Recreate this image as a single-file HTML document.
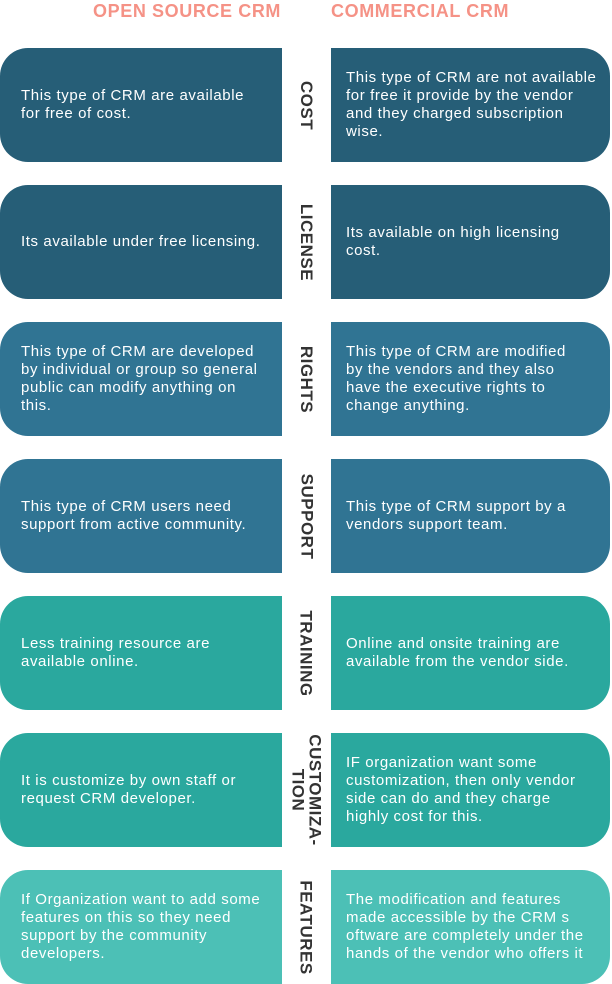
<!DOCTYPE html>
<html><head><meta charset="utf-8"><style>
body{margin:0;width:612px;height:984px;background:#fff;position:relative;font-family:"Liberation Sans",sans-serif;overflow:hidden}
.h{position:absolute;top:1px;font-size:18px;color:#f4877a;letter-spacing:0.6px;font-weight:bold;opacity:0.9}
.l,.r{position:absolute;height:114px;color:#fff;font-size:15px;letter-spacing:0.6px;line-height:18px;display:flex;align-items:center;box-sizing:border-box;white-space:nowrap;overflow:hidden}
.l{left:0;width:282px;border-radius:28px 0 0 28px;padding:0 0 0 21px}
.r{left:331px;width:279px;border-radius:0 28px 28px 0;padding:0 0 0 15px}
.m{position:absolute;left:282px;width:49px;height:114px;display:flex;align-items:center;justify-content:center}
.m span{display:block;transform:rotate(90deg);white-space:nowrap;font-weight:bold;font-size:17px;color:#333;line-height:17px;text-align:center;letter-spacing:0.5px}
</style></head><body>
<div class="h" style="left:93px">OPEN SOURCE CRM</div>
<div class="h" style="left:331px">COMMERCIAL CRM</div>

<div class="l" style="top:48px;background:#265e77"><div>This type of CRM are available<br>for free of cost.</div></div>
<div class="m" style="top:48px"><span>COST</span></div>
<div class="r" style="top:48px;background:#265e77"><div>This type of CRM are not available<br>for free it provide by the vendor<br>and they charged subscription<br>wise.</div></div>

<div class="l" style="top:185px;background:#265e77"><div>Its available under free licensing.</div></div>
<div class="m" style="top:185px"><span>LICENSE</span></div>
<div class="r" style="top:185px;background:#265e77"><div>Its available on high licensing<br>cost.</div></div>

<div class="l" style="top:322px;background:#307493"><div>This type of CRM are developed<br>by individual or group so general<br>public can modify anything on<br>this.</div></div>
<div class="m" style="top:322px"><span>RIGHTS</span></div>
<div class="r" style="top:322px;background:#307493"><div>This type of CRM are modified<br>by the vendors and they also<br>have the executive rights to<br>change anything.</div></div>

<div class="l" style="top:459px;background:#307493"><div>This type of CRM users need<br>support from active community.</div></div>
<div class="m" style="top:459px"><span>SUPPORT</span></div>
<div class="r" style="top:459px;background:#307493"><div>This type of CRM support by a<br>vendors support team.</div></div>

<div class="l" style="top:596px;background:#2aa89e"><div>Less training resource are<br>available online.</div></div>
<div class="m" style="top:596px"><span>TRAINING</span></div>
<div class="r" style="top:596px;background:#2aa89e"><div>Online and onsite training are<br>available from the vendor side.</div></div>

<div class="l" style="top:733px;background:#2aa89e"><div>It is customize by own staff or<br>request CRM developer.</div></div>
<div class="m" style="top:733px"><span>CUSTOMIZA-<br>TION</span></div>
<div class="r" style="top:733px;background:#2aa89e"><div>IF organization want some<br>customization, then only vendor<br>side can do and they charge<br>highly cost for this.</div></div>

<div class="l" style="top:870px;background:#4cc0b6"><div>If Organization want to add some<br>features on this so they need<br>support by the community<br>developers.</div></div>
<div class="m" style="top:870px"><span>FEATURES</span></div>
<div class="r" style="top:870px;background:#4cc0b6"><div>The modification and features<br>made accessible by the CRM s<br>oftware are completely under the<br>hands of the vendor who offers it</div></div>
</body></html>
